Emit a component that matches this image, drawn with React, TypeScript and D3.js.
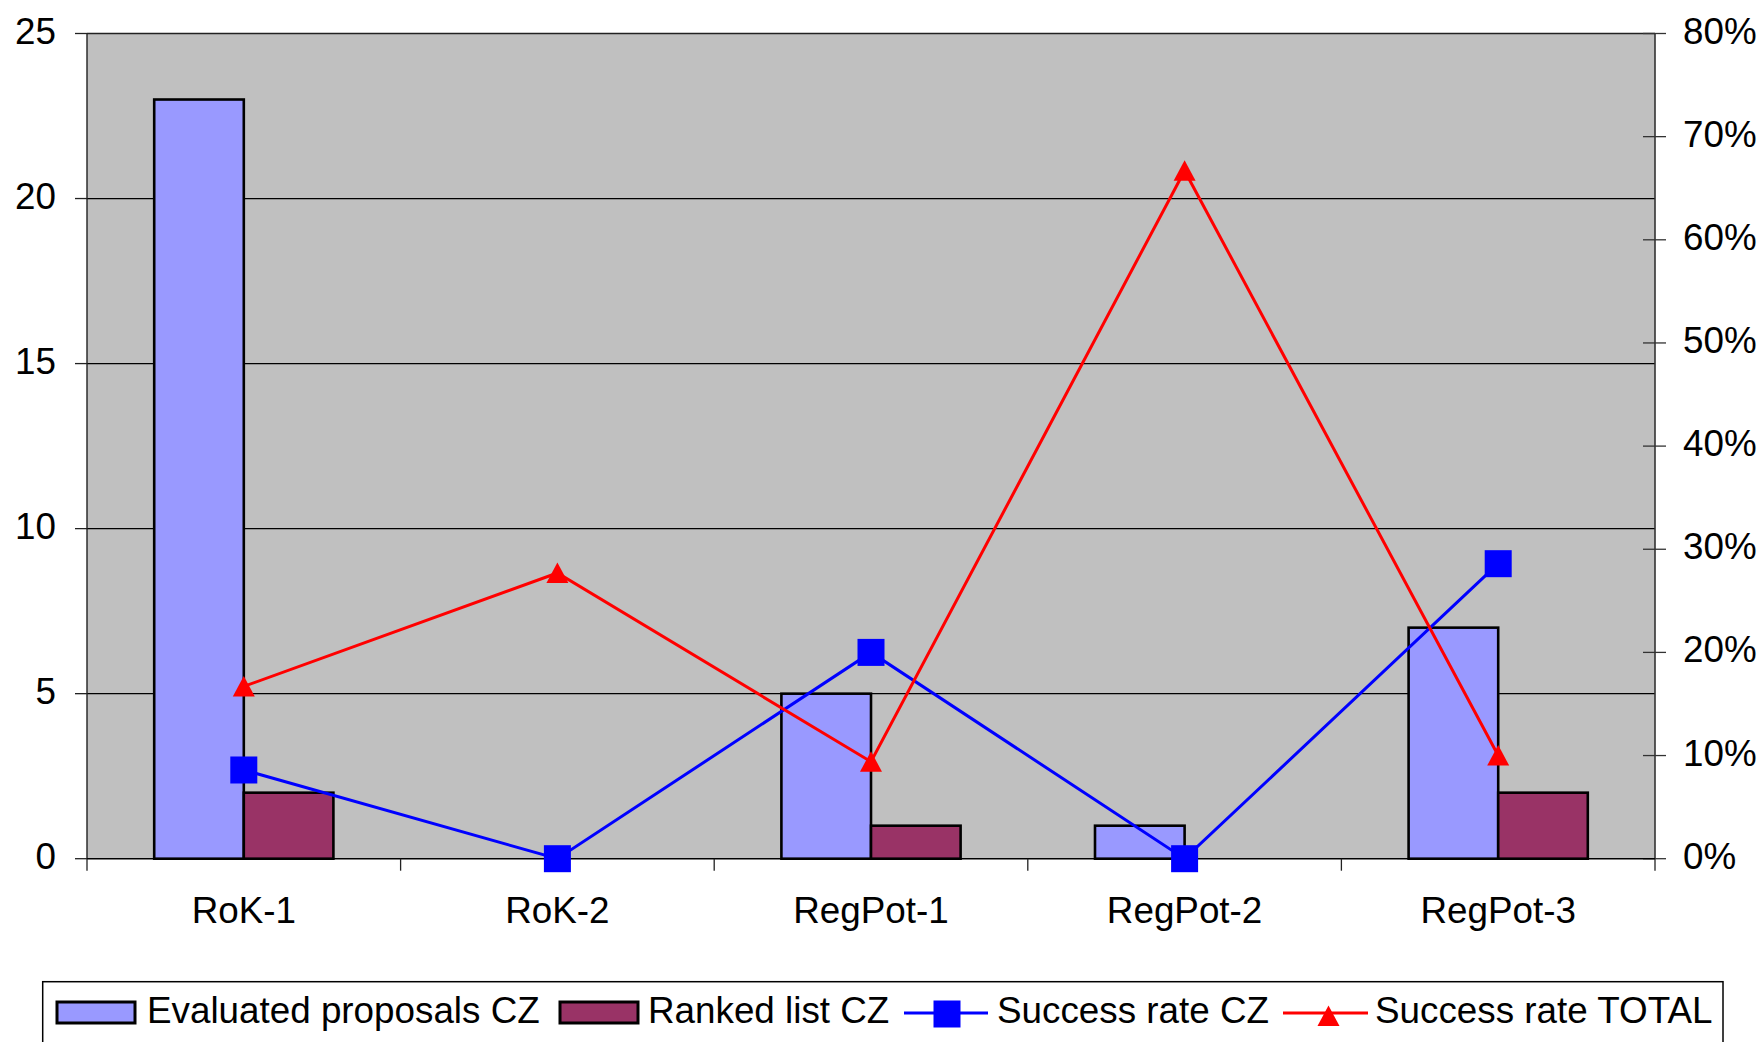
import React from "react";
import * as d3 from "d3";

const categories = ["RoK-1", "RoK-2", "RegPot-1", "RegPot-2", "RegPot-3"];
const evaluatedCZ = [23, 0, 5, 1, 7];
const rankedCZ = [2, 0, 1, 0, 2];
const successCZ = [0.086, 0, 0.2, 0, 0.286];
const successTotal = [0.167, 0.277, 0.094, 0.667, 0.1];
const leftTicks = [0, 5, 10, 15, 20, 25];
const rightTicks = [0, 0.1, 0.2, 0.3, 0.4, 0.5, 0.6, 0.7, 0.8];
const barSeries = ["Evaluated proposals CZ", "Ranked list CZ"];

const W = 1764;
const H = 1042;
const PL = 87, PR = 1655, PT = 33.5, PB = 858.7;
const FONT = "'Liberation Sans', Arial, sans-serif";
const FS = 36.8;

export default function App() {
  const x = d3.scaleBand<string>().domain(categories).range([PL, PR]).paddingInner(0).paddingOuter(0);
  const xs = d3.scaleBand<string>().domain(barSeries).range([0, x.bandwidth()]).paddingInner(0).paddingOuter(0.75);
  const yL = d3.scaleLinear().domain([0, 25]).range([PB, PT]);
  const yR = d3.scaleLinear().domain([0, 0.8]).range([PB, PT]);
  const cx = (c: string) => (x(c) as number) + x.bandwidth() / 2;

  const lineCZ = d3.line<number>().x((_, i) => cx(categories[i])).y((d) => yR(d));
  const lineTot = d3.line<number>().x((_, i) => cx(categories[i])).y((d) => yR(d));
  const tri = "M0,-10.5L11,10L-11,10Z";
  const sq = 27;

  const barData = [
    { name: barSeries[0], values: evaluatedCZ, fill: "#9999ff" },
    { name: barSeries[1], values: rankedCZ, fill: "#993366" },
  ];

  const catTicks = [...categories.map((c) => x(c) as number), PR];

  const legY = 1013;
  const legBase = 1023;

  return (
    <svg width={W} height={H} style={{ position: "absolute", left: 0, top: 0, display: "block", background: "#fff" }} fontFamily={FONT}>
      <rect x={0} y={0} width={W} height={H} fill="#fff" />
      {/* plot area */}
      <rect x={PL} y={PT} width={PR - PL} height={PB - PT} fill="#c0c0c0" />
      {/* gridlines */}
      {leftTicks.filter((t) => t > 0 && t < 25).map((t) => (
        <line key={"g" + t} x1={PL} x2={PR} y1={yL(t)} y2={yL(t)} stroke="#000" strokeWidth={1.3} />
      ))}
      <line x1={PL} x2={PR} y1={PT} y2={PT} stroke="#222" strokeWidth={1.6} />
      <line x1={PR} x2={PR} y1={PT} y2={PB} stroke="#333" strokeWidth={1.6} />
      <line x1={PL} x2={PL} y1={PT} y2={PB} stroke="#222" strokeWidth={1.4} />
      {/* left axis ticks & labels */}
      {leftTicks.map((t) => (
        <g key={"l" + t}>
          <line x1={PL - 12} x2={PL} y1={yL(t)} y2={yL(t)} stroke="#222" strokeWidth={1.3} />
          <text x={56} y={yL(t) + 10} textAnchor="end" fontSize={FS} fill="#000">{t}</text>
        </g>
      ))}
      {/* right axis ticks & labels */}
      {rightTicks.map((t) => (
        <g key={"r" + t}>
          <line x1={PR - 12} x2={PR + 11} y1={yR(t)} y2={yR(t)} stroke="#333" strokeWidth={1.3} />
          <text x={1683} y={yR(t) + 10} textAnchor="start" fontSize={FS} fill="#000">{d3.format(".0%")(t)}</text>
        </g>
      ))}
      {/* bars */}
      {barData.map((s) =>
        categories.map((c, i) =>
          s.values[i] > 0 ? (
            <rect
              key={s.name + c}
              x={(x(c) as number) + (xs(s.name) as number)}
              y={yL(s.values[i])}
              width={xs.bandwidth()}
              height={yL(0) - yL(s.values[i])}
              fill={s.fill}
              stroke="#000"
              strokeWidth={2.6}
            />
          ) : null
        )
      )}
      {/* category axis */}
      <line x1={PL} x2={PR} y1={PB} y2={PB} stroke="#000" strokeWidth={1.5} />
      {catTicks.map((t, i) => (
        <line key={"ct" + i} x1={t} x2={t} y1={PB} y2={PB + 12} stroke="#222" strokeWidth={1.3} />
      ))}
      {categories.map((c) => (
        <text key={"cl" + c} x={cx(c)} y={923} textAnchor="middle" fontSize={FS} fill="#000">{c}</text>
      ))}
      {/* Success rate CZ */}
      <path d={lineCZ(successCZ) as string} fill="none" stroke="#0000ff" strokeWidth={3} />
      {successCZ.map((v, i) => (
        <rect key={"sq" + i} x={cx(categories[i]) - sq / 2} y={yR(v) - sq / 2} width={sq} height={sq} fill="#0000ff" />
      ))}
      {/* Success rate TOTAL */}
      <path d={lineTot(successTotal) as string} fill="none" stroke="#ff0000" strokeWidth={3} />
      {successTotal.map((v, i) => (
        <path key={"tr" + i} d={tri} transform={`translate(${cx(categories[i])},${yR(v)})`} fill="#ff0000" />
      ))}
      {/* legend */}
      <rect x={42.7} y={981.7} width={1723 - 42.7} height={100} fill="#fff" stroke="#000" strokeWidth={1.5} />
      <rect x={57} y={1002} width={78} height={21} fill="#9999ff" stroke="#000" strokeWidth={3} />
      <text x={147} y={legBase} fontSize={FS} fill="#000">{barSeries[0]}</text>
      <rect x={560} y={1002} width={78} height={21} fill="#993366" stroke="#000" strokeWidth={3} />
      <text x={648} y={legBase} fontSize={FS} fill="#000">{barSeries[1]}</text>
      <line x1={904} x2={988} y1={legY} y2={legY} stroke="#0000ff" strokeWidth={3} />
      <rect x={947 - sq / 2} y={legY - sq / 2 + 1} width={sq} height={sq} fill="#0000ff" />
      <text x={997} y={legBase} fontSize={FS} fill="#000">Success rate CZ</text>
      <line x1={1283} x2={1368} y1={legY} y2={legY} stroke="#ff0000" strokeWidth={3} />
      <path d={tri} transform={`translate(1328.5,${legY + 3})`} fill="#ff0000" />
      <text x={1375} y={legBase} fontSize={FS} fill="#000">Success rate TOTAL</text>
    </svg>
  );
}
